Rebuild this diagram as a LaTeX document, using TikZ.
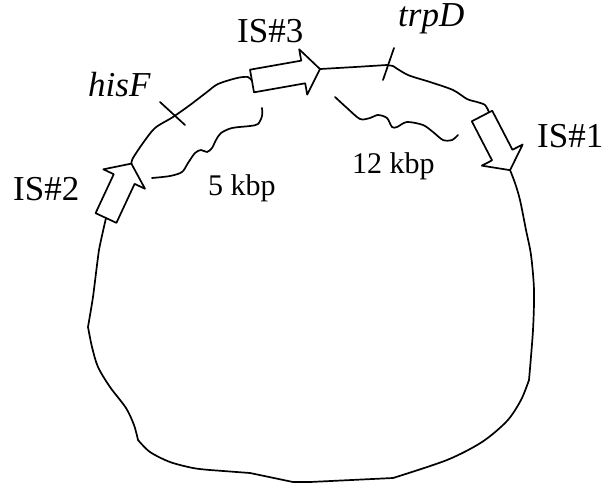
\documentclass[tikz,border=0pt]{standalone}
\usepackage{fontspec}
\setmainfont{Liberation Serif}
\begin{document}
\begin{tikzpicture}[x=1pt,y=-1pt,
  ln/.style={line width=1.7pt, line join=round, line cap=round},
  big/.style={inner sep=0pt, anchor=base west, font=\fontsize{35}{40}\selectfont},
  small/.style={inner sep=0pt, anchor=base west, font=\fontsize{30}{34}\selectfont},
  pics/isarrow/.style={code={
    \draw[ln, fill=white] (0,-11.5) -- (#1-17,-11.5) -- (#1-17,-23) -- (#1,0)
      -- (#1-17,23) -- (#1-17,11.5) -- (0,11.5) -- cycle;
    \coordinate (-tail) at (0,0);
    \coordinate (-tip) at (#1,0);
    \coordinate (-tr) at (0,-8);
  }}]
\useasboundingbox (0,0) rectangle (605,483);

% IS elements
\pic[rotate=10] (is3) at (252,81) {isarrow=69};
\pic[rotate=65] (is2) at (106,218) {isarrow=60};
\pic[rotate=-62.6] (is1) at (482,116) {isarrow=61};

% plasmid loop
\draw[ln] (is3-tip) -- (355,67) -- (387,65) -- (393,66);
\draw[ln] plot[smooth, tension=0.5] coordinates {(393,66) (408,75) (430,82) (453,90) (467,99) (477,102) (485,105) (is1-tr)};
\draw[ln] plot[smooth, tension=0.5] coordinates {(is1-tip) (515,183) (520,200) (526,230) (531,255) (534,290) (533,330) (529,380)};
\draw[ln] plot[smooth, tension=0.5] coordinates {(529,380) (521,400) (507,421) (482,442) (447,460) (393,478)};
\draw[ln] (393,478) -- (310,482) -- (293,482) -- (250,473) -- (210,470);
\draw[ln] plot[smooth, tension=0.5] coordinates {(210,470) (193,468) (170,462) (150,452) (138,440)};
\draw[ln] plot[smooth, tension=0.5] coordinates {(138,440) (134,425) (126,408) (110,387) (98,367) (92,347) (88,327)};
\draw[ln] plot[smooth, tension=0.3] coordinates {(88,327) (93,297) (99,250) (is2-tail)};
\draw[ln] plot[smooth, tension=0.5] coordinates {(is2-tip) (133,158) (143,143) (155,128) (173,117) (190,105) (207,92) (218,84) (237,78) (248,77) (is3-tail)};

% gene ticks
\coordinate (hisA) at (160,102);
\coordinate (hisB) at (185,125);
\draw[ln] (hisA) -- (hisB);
\coordinate (trpA) at (394,48);
\coordinate (trpB) at (383,80);
\draw[ln] (trpA) -- (trpB);

% distance squiggles
\draw[ln] plot[smooth, tension=0.5] coordinates {(152,178) (170,176) (182,172) (188,163) (195,153) (201,150) (207,152) (212,148) (216,140) (221,133) (232,128) (250,126) (258,124) (262,116) (262,108)};
\draw[ln] plot[smooth, tension=0.5] coordinates {(335,97) (347,108) (360,119) (370,118) (378,115) (387,118) (392,127) (397,127) (407,122) (423,125) (433,132) (443,140) (452,140) (458,135)};

% labels
\node[big] (lis3) at (237,42) {IS\#3};
\node[big] (lis2) at (13,200) {IS\#2};
\node[big] (lis1) at (537,147) {IS\#1};
\node[big] (lhis) at (88,96) {\itshape hisF};
\node[big] (ltrp) at (398,26) {\itshape trpD};
\node[small] (l5) at (208,195) {5 kbp};
\node[small] (l12) at (352,173) {12 kbp};
\end{tikzpicture}
\end{document}
